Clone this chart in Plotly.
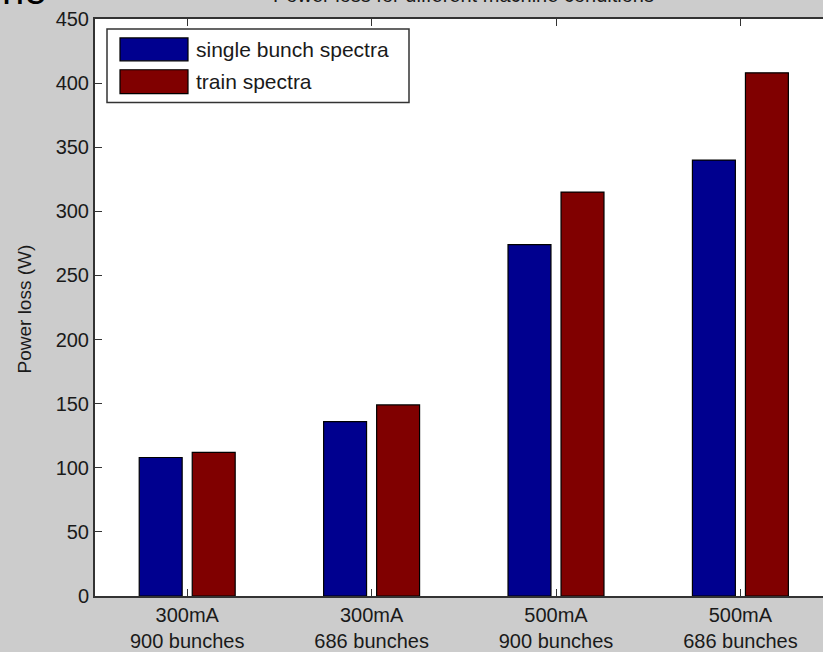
import plotly.graph_objects as go

categories = ["300mA<br>900 bunches", "300mA<br>686 bunches", "500mA<br>900 bunches", "500mA<br>686 bunches"]
positions = [1, 2, 3, 4]
single_bunch = [108, 136, 274, 340]
train = [112, 149, 315, 408]
series_names = ["single bunch spectra", "train spectra"]
y_ticks = [0, 50, 100, 150, 200, 250, 300, 350, 400, 450]

BLUE = "#00008F"
RED = "#800000"
FONT = "Liberation Sans, Arial, sans-serif"

# pixel geometry helpers (plot area: x 95..823, y 19..599)
L, T, W, H = 95, 19, 728, 580
def px(x):
    return (x - L) / W
def py(y):
    return (T + H - y) / H

fig = go.Figure()
fig.add_trace(go.Bar(x=positions, y=single_bunch, name=series_names[0],
                     marker=dict(color=BLUE, line=dict(color="black", width=1.2)),
                     showlegend=False))
fig.add_trace(go.Bar(x=positions, y=train, name=series_names[1],
                     marker=dict(color=RED, line=dict(color="black", width=1.2)),
                     showlegend=False))

shapes = [
    dict(type="rect", xref="paper", yref="paper", x0=px(107), x1=px(409), y0=py(103), y1=py(29),
         line=dict(color="#333", width=1.5), fillcolor="white", layer="above"),
    dict(type="rect", xref="paper", yref="paper", x0=px(120), x1=px(188), y0=py(61), y1=py(38),
         line=dict(color="black", width=1.2), fillcolor=BLUE, layer="above"),
    dict(type="rect", xref="paper", yref="paper", x0=px(120), x1=px(188), y0=py(94), y1=py(70),
         line=dict(color="black", width=1.2), fillcolor=RED, layer="above"),
]

annotations = [
    dict(text=series_names[0], xref="paper", yref="paper", x=px(194), y=py(49.5),
         xanchor="left", yanchor="middle", showarrow=False, font=dict(family=FONT, size=21, color="#1a1a1a")),
    dict(text=series_names[1], xref="paper", yref="paper", x=px(194), y=py(82),
         xanchor="left", yanchor="middle", showarrow=False, font=dict(family=FONT, size=21, color="#1a1a1a")),
    dict(text="Power loss (W)", xref="paper", yref="paper", x=px(24), y=py(311),
         xanchor="center", yanchor="middle", textangle=-90, showarrow=False,
         font=dict(family=FONT, size=19, color="#1a1a1a")),
    dict(text="Power loss for different machine conditions", xref="paper", yref="paper",
         x=px(463), y=py(8), xanchor="center", yanchor="bottom", showarrow=False,
         font=dict(family=FONT, size=20, color="#1a1a1a")),
    dict(text="ne", xref="paper", yref="paper", x=px(0), y=py(14), xanchor="left", yanchor="bottom",
         showarrow=False, font=dict(family=FONT, size=40, color="black")),
]

fig.update_layout(
    width=823, height=652,
    margin=dict(l=L, r=0, t=T, b=652 - T - H),
    paper_bgcolor="#cccccc", plot_bgcolor="white",
    barmode="group", bargap=0.425, bargroupgap=0.19,
    shapes=shapes, annotations=annotations,
    font=dict(family=FONT, size=20, color="#1a1a1a"),
)
fig.update_xaxes(range=[0.5, 0.5 + W / 184.4], tickvals=positions, ticktext=categories,
                 showgrid=False, zeroline=False, showline=True, linecolor="#333", linewidth=2,
                 mirror="ticks", ticks="inside", ticklen=7, tickwidth=1.2, tickcolor="#333",
                 tickfont=dict(family=FONT, size=20, color="#1a1a1a"))
fig.update_yaxes(range=[0, 450], tickvals=y_ticks, showgrid=False, zeroline=False,
                 showline=True, linecolor="#333", linewidth=2, mirror=False,
                 ticks="inside", ticklen=7, tickwidth=1.2, tickcolor="#333",
                 tickfont=dict(family=FONT, size=20, color="#1a1a1a"))

fig.write_html("out.html")
